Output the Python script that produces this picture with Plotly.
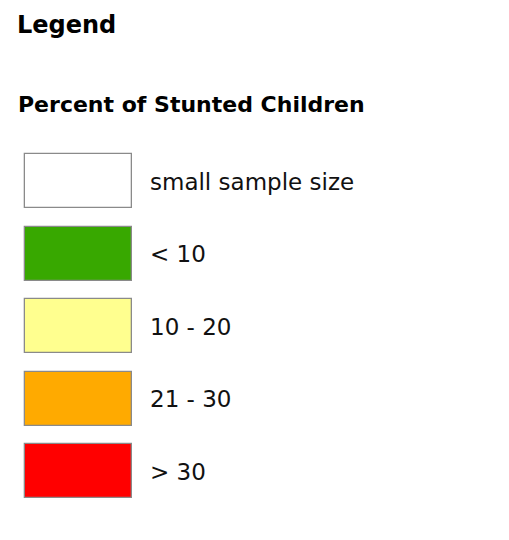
import plotly.graph_objects as go

title = "Legend"
subtitle = "Percent of Stunted Children"
labels = ["small sample size", "< 10", "10 - 20", "21 - 30", "> 30"]
colors = ["#FFFFFF", "#38A800", "#FFFF8F", "#FFAA00", "#FF0000"]

W, H = 509, 540
off = 8  # page body margin
box_x0, box_w, box_h = 25 - off, 107, 54
y0, step = 181 - off, 72.5
ys = [y0 + i * step for i in range(len(labels))]

fig = go.Figure()
fig.add_trace(go.Bar(
    orientation="h", y=ys, x=[box_w] * len(labels), base=[box_x0] * len(labels),
    width=box_h, marker=dict(color=colors, line=dict(color="#8a8a8a", width=1.3)),
    hoverinfo="skip", showlegend=False))
fig.add_trace(go.Scatter(
    x=[150 - off] * len(labels), y=[y + 3 for y in ys], mode="text", text=labels,
    textposition="middle right", textfont=dict(family="DejaVu Sans", size=23, color="#111"),
    hoverinfo="skip", showlegend=False))

fig.add_annotation(x=7, y=17, text="<b>" + title + "</b>", showarrow=False, xanchor="left",
                   yanchor="middle", font=dict(family="DejaVu Sans", size=24, color="#000"))
fig.add_annotation(x=8, y=96, text="<b>" + subtitle + "</b>", showarrow=False, xanchor="left",
                   yanchor="middle", font=dict(family="DejaVu Sans", size=22, color="#000"))

fig.update_layout(
    width=W, height=H, margin=dict(l=0, r=0, t=0, b=0),
    paper_bgcolor="white", plot_bgcolor="white",
    xaxis=dict(range=[0, W], visible=False, fixedrange=True),
    yaxis=dict(range=[H, 0], visible=False, fixedrange=True),
    bargap=0,
)
fig.write_html("out.html")
